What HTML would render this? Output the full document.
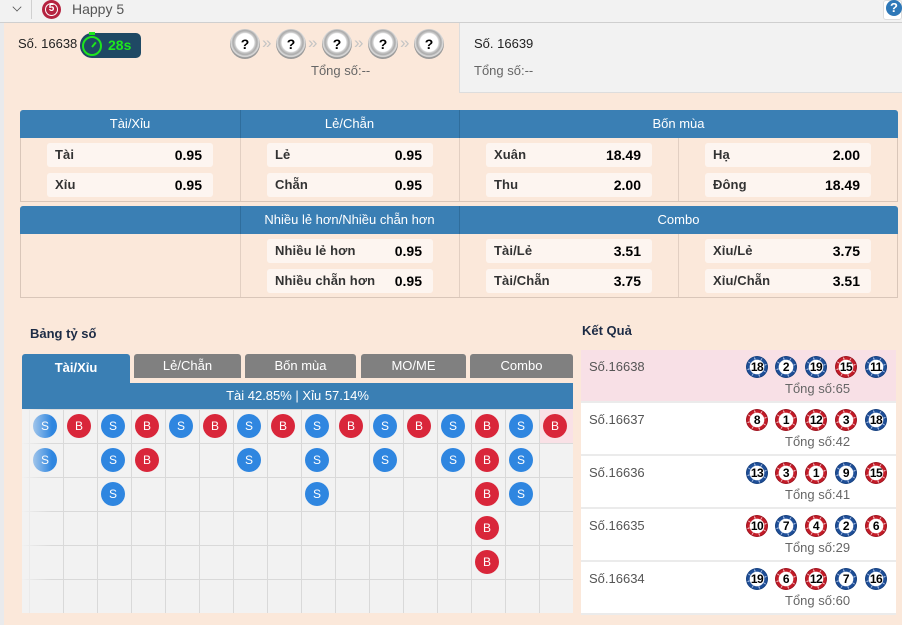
<!DOCTYPE html>
<html>
<head>
<meta charset="utf-8">
<style>
*{margin:0;padding:0;box-sizing:border-box;}
html,body{width:902px;height:625px;overflow:hidden;}
body{background:#fbe8da;font-family:"Liberation Sans","DejaVu Sans",sans-serif;position:relative;color:#333;}
.a{position:absolute;}
.topbar{left:0;top:0;width:902px;height:23px;background:#f2f2f2;border-bottom:1px solid #cfcfcf;}
.lstrip{left:0;top:23px;width:4px;height:602px;background:#e9eaec;}
.qball{width:30px;height:30px;border-radius:50%;background:radial-gradient(circle at 50% 45%,#fff 0 9px,#cfcfcf 10px,#a9a9a9 12px,#e0e0e0 14px,#9a9a9a 15px);text-align:center;line-height:30px;font-weight:bold;font-size:14px;color:#000;}
.chev{color:#c4c4c4;font-size:17px;top:33px;}
.tbl{background:#fbe8da;border:1px solid #d9c6b9;border-radius:3px 3px 0 0;}
.th{background:#3a7fb4;color:#fff;font-size:13px;text-align:center;height:28px;line-height:28px;}
.box{background:#fdf5f0;border-radius:3px;width:166px;height:24px;}
.box .l{position:absolute;left:8px;top:0;line-height:24px;font-size:13px;color:#333;font-weight:bold;letter-spacing:0.1px;}
.box .v{position:absolute;right:11px;top:0;line-height:24px;font-size:14px;color:#000;font-weight:bold;}
.vline{width:1px;background:#e2cfc2;}
.hvline{width:1px;background:#2f6d9c;}
.tab{background:#808080;color:#fff;font-size:13px;text-align:center;height:24px;line-height:24px;border-radius:3px 3px 0 0;}
.g{width:24px;height:24px;border-radius:50%;color:#fff;font-size:12px;text-align:center;line-height:24px;}
.s{background:#2f86e0;}
.b{background:#d9263a;}
.rb{width:22px;height:22px;border-radius:50%;text-align:center;line-height:22px;font-weight:bold;font-size:12px;color:#000;letter-spacing:-0.5px;}
.bl{background:radial-gradient(circle,#fff 0 7px,transparent 7.6px),repeating-conic-gradient(#1f4f98 0 26deg,#8ea9d6 26deg 34deg,#1f4f98 34deg 45deg);box-shadow:inset 0 0 0 1px #16407e;}
.rd{background:radial-gradient(circle,#fff 0 7px,transparent 7.6px),repeating-conic-gradient(#c41c28 0 26deg,#e9a1a6 26deg 34deg,#c41c28 34deg 45deg);box-shadow:inset 0 0 0 1px #9c1420;}
.rrow{left:581px;width:315px;height:53px;border-bottom:2px solid #ebebeb;background:#fff;}
.rrow .n{position:absolute;left:8px;top:9px;font-size:13px;color:#555;}
.rrow .t{position:absolute;left:204px;top:31px;font-size:13px;color:#666;}
</style>
</head>
<body>
<!-- top bar -->
<div class="a topbar"></div>
<div class="a" style="left:13px;top:3px;width:8px;height:8px;border-right:1.5px solid #555;border-bottom:1.5px solid #555;transform:rotate(45deg) scale(0.8);"></div>
<div class="a" style="left:31px;top:0;width:1px;height:19px;background:#d0d0d0;"></div>
<div class="a" style="left:42px;top:0px;width:19px;height:19px;border-radius:50%;background:#b5223f;"></div>
<div class="a" style="left:45px;top:3px;width:13px;height:13px;border-radius:50%;border:1.5px solid #fff;color:#fff;font-size:10px;font-weight:bold;text-align:center;line-height:10px;">5</div>
<div class="a" style="left:72px;top:1px;font-size:14px;color:#555;">Happy 5</div>
<div class="a" style="left:883px;top:0;width:19px;height:20px;background:#fff;border:1px solid #ddd;border-radius:3px;"></div>
<div class="a" style="left:886px;top:0px;width:16px;height:16px;border-radius:50%;background:#2e78b8;color:#fff;font-weight:bold;font-size:13px;text-align:center;line-height:16px;">?</div>

<div class="a lstrip"></div>

<!-- header current -->
<div class="a" style="left:18px;top:36px;font-size:13px;color:#222;">Số. 16638</div>
<div class="a" style="left:80px;top:33px;width:61px;height:25px;background:#1f4964;border-radius:12px 5px 5px 12px;"></div>
<div class="a" style="left:82px;top:36px;width:20px;height:20px;border-radius:50%;border:2.5px solid #1ee61e;"></div>
<div class="a" style="left:89px;top:32px;width:6px;height:3px;background:#1ee61e;"></div>
<div class="a" style="left:91px;top:41px;width:2px;height:6px;background:#1ee61e;transform:rotate(40deg);transform-origin:bottom;"></div>
<div class="a" style="left:108px;top:37px;font-size:14px;font-weight:bold;color:#1ee61e;">28s</div>

<div class="a qball" style="left:230px;top:29px;">?</div>
<div class="a chev" style="left:262px;">»</div>
<div class="a qball" style="left:276px;top:29px;">?</div>
<div class="a chev" style="left:308px;">»</div>
<div class="a qball" style="left:322px;top:29px;">?</div>
<div class="a chev" style="left:354px;">»</div>
<div class="a qball" style="left:368px;top:29px;">?</div>
<div class="a chev" style="left:400px;">»</div>
<div class="a qball" style="left:414px;top:29px;">?</div>
<div class="a" style="left:311px;top:63px;font-size:13px;color:#666;">Tổng số:--</div>

<!-- header next -->
<div class="a" style="left:459px;top:23px;width:443px;height:70px;background:#f2f2f2;border-left:1px solid #ddd;border-bottom:1px solid #ddd;"></div>
<div class="a" style="left:474px;top:36px;font-size:13px;color:#222;">Số. 16639</div>
<div class="a" style="left:474px;top:63px;font-size:13px;color:#666;">Tổng số:--</div>

<!-- table 1 -->
<div class="a tbl" style="left:20px;top:110px;width:878px;height:92px;"></div>
<div class="a th" style="left:20px;top:110px;width:878px;border-radius:3px 3px 0 0;"></div>
<div class="a th" style="left:20px;top:110px;width:220px;background:none;">Tài/Xỉu</div>
<div class="a th" style="left:240px;top:110px;width:219px;background:none;">Lẻ/Chẵn</div>
<div class="a th" style="left:459px;top:110px;width:439px;background:none;">Bốn mùa</div>
<div class="a hvline" style="left:240px;top:110px;height:28px;"></div>
<div class="a hvline" style="left:459px;top:110px;height:28px;"></div>
<div class="a vline" style="left:240px;top:138px;height:63px;"></div>
<div class="a vline" style="left:459px;top:138px;height:63px;"></div>
<div class="a vline" style="left:678px;top:138px;height:63px;"></div>

<div class="a box" style="left:47px;top:143px;"><span class="l">Tài</span><span class="v">0.95</span></div>
<div class="a box" style="left:47px;top:173px;"><span class="l">Xỉu</span><span class="v">0.95</span></div>
<div class="a box" style="left:267px;top:143px;"><span class="l">Lẻ</span><span class="v">0.95</span></div>
<div class="a box" style="left:267px;top:173px;"><span class="l">Chẵn</span><span class="v">0.95</span></div>
<div class="a box" style="left:486px;top:143px;"><span class="l">Xuân</span><span class="v">18.49</span></div>
<div class="a box" style="left:486px;top:173px;"><span class="l">Thu</span><span class="v">2.00</span></div>
<div class="a box" style="left:705px;top:143px;"><span class="l">Hạ</span><span class="v">2.00</span></div>
<div class="a box" style="left:705px;top:173px;"><span class="l">Đông</span><span class="v">18.49</span></div>

<!-- table 2 -->
<div class="a tbl" style="left:20px;top:206px;width:878px;height:92px;"></div>
<div class="a th" style="left:20px;top:206px;width:878px;border-radius:3px 3px 0 0;"></div>
<div class="a th" style="left:240px;top:206px;width:219px;background:none;">Nhiều lẻ hơn/Nhiều chẵn hơn</div>
<div class="a th" style="left:459px;top:206px;width:439px;background:none;">Combo</div>
<div class="a hvline" style="left:240px;top:206px;height:28px;"></div>
<div class="a hvline" style="left:459px;top:206px;height:28px;"></div>
<div class="a vline" style="left:240px;top:234px;height:63px;"></div>
<div class="a vline" style="left:459px;top:234px;height:63px;"></div>
<div class="a vline" style="left:678px;top:234px;height:63px;"></div>

<div class="a box" style="left:267px;top:239px;"><span class="l">Nhiều lẻ hơn</span><span class="v">0.95</span></div>
<div class="a box" style="left:267px;top:269px;"><span class="l">Nhiều chẵn hơn</span><span class="v">0.95</span></div>
<div class="a box" style="left:486px;top:239px;"><span class="l">Tài/Lẻ</span><span class="v">3.51</span></div>
<div class="a box" style="left:486px;top:269px;"><span class="l">Tài/Chẵn</span><span class="v">3.75</span></div>
<div class="a box" style="left:705px;top:239px;"><span class="l">Xỉu/Lẻ</span><span class="v">3.75</span></div>
<div class="a box" style="left:705px;top:269px;"><span class="l">Xỉu/Chẵn</span><span class="v">3.51</span></div>

<!-- Bảng tỷ số -->
<div class="a" style="left:30px;top:326px;font-size:13px;font-weight:bold;color:#1c2b45;">Bảng tỷ số</div>
<div class="a" style="left:22px;top:354px;width:108px;height:30px;background:#3a7fb4;border-radius:3px 3px 0 0;color:#fff;font-weight:bold;font-size:13px;text-align:center;line-height:28px;">Tài/Xỉu</div>
<div class="a tab" style="left:134px;top:354px;width:107px;">Lẻ/Chẵn</div>
<div class="a tab" style="left:245px;top:354px;width:111px;">Bốn mùa</div>
<div class="a tab" style="left:361px;top:354px;width:105px;">MO/ME</div>
<div class="a tab" style="left:470px;top:354px;width:103px;">Combo</div>
<div class="a" style="left:22px;top:383px;width:551px;height:26px;background:#3a7fb4;color:#fff;font-size:13px;text-align:center;line-height:26px;">Tài 42.85% | Xỉu 57.14%</div>

<!-- grid -->
<div class="a" style="left:22px;top:409px;width:551px;height:204px;background-color:#f2f2f2;background-image:linear-gradient(to right,#d9d9d9 0 1px,transparent 1px),linear-gradient(to bottom,#d9d9d9 0 1px,transparent 1px);background-size:34px 34px;background-position:7px 0px;"></div>
<div class="a" style="left:540px;top:409px;width:33px;height:34px;background:#f9e1e6;"></div>

<div class="a g s" style="left:33px;top:414px;">S</div>
<div class="a g b" style="left:67px;top:414px;">B</div>
<div class="a g s" style="left:101px;top:414px;">S</div>
<div class="a g b" style="left:135px;top:414px;">B</div>
<div class="a g s" style="left:169px;top:414px;">S</div>
<div class="a g b" style="left:203px;top:414px;">B</div>
<div class="a g s" style="left:237px;top:414px;">S</div>
<div class="a g b" style="left:271px;top:414px;">B</div>
<div class="a g s" style="left:305px;top:414px;">S</div>
<div class="a g b" style="left:339px;top:414px;">B</div>
<div class="a g s" style="left:373px;top:414px;">S</div>
<div class="a g b" style="left:407px;top:414px;">B</div>
<div class="a g s" style="left:441px;top:414px;">S</div>
<div class="a g b" style="left:475px;top:414px;">B</div>
<div class="a g s" style="left:509px;top:414px;">S</div>
<div class="a g b" style="left:543px;top:414px;">B</div>

<div class="a g s" style="left:33px;top:448px;">S</div>
<div class="a g s" style="left:101px;top:448px;">S</div>
<div class="a g b" style="left:135px;top:448px;">B</div>
<div class="a g s" style="left:237px;top:448px;">S</div>
<div class="a g s" style="left:305px;top:448px;">S</div>
<div class="a g s" style="left:373px;top:448px;">S</div>
<div class="a g s" style="left:441px;top:448px;">S</div>
<div class="a g b" style="left:475px;top:448px;">B</div>
<div class="a g s" style="left:509px;top:448px;">S</div>

<div class="a g s" style="left:101px;top:482px;">S</div>
<div class="a g s" style="left:305px;top:482px;">S</div>
<div class="a g b" style="left:475px;top:482px;">B</div>
<div class="a g s" style="left:509px;top:482px;">S</div>

<div class="a g b" style="left:475px;top:516px;">B</div>
<div class="a g b" style="left:475px;top:550px;">B</div>

<div class="a" style="left:22px;top:409px;width:30px;height:204px;background:linear-gradient(to right,rgba(242,242,242,0.95),rgba(242,242,242,0.6) 35%,rgba(242,242,242,0));"></div>

<!-- Kết Quả -->
<div class="a" style="left:582px;top:323px;font-size:13px;font-weight:bold;color:#1c2b45;">Kết Quả</div>

<div class="a rrow" style="top:350px;background:#f8e0e6;">
  <span class="n">Số.16638</span>
  <div class="a rb bl" style="left:165px;top:6px;">18</div>
  <div class="a rb bl" style="left:194px;top:6px;">2</div>
  <div class="a rb bl" style="left:224px;top:6px;">19</div>
  <div class="a rb rd" style="left:254px;top:6px;">15</div>
  <div class="a rb bl" style="left:284px;top:6px;">11</div>
  <span class="t">Tổng số:65</span>
</div>
<div class="a rrow" style="top:403px;">
  <span class="n">Số.16637</span>
  <div class="a rb rd" style="left:165px;top:6px;">8</div>
  <div class="a rb rd" style="left:194px;top:6px;">1</div>
  <div class="a rb rd" style="left:224px;top:6px;">12</div>
  <div class="a rb rd" style="left:254px;top:6px;">3</div>
  <div class="a rb bl" style="left:284px;top:6px;">18</div>
  <span class="t">Tổng số:42</span>
</div>
<div class="a rrow" style="top:456px;">
  <span class="n">Số.16636</span>
  <div class="a rb bl" style="left:165px;top:6px;">13</div>
  <div class="a rb rd" style="left:194px;top:6px;">3</div>
  <div class="a rb rd" style="left:224px;top:6px;">1</div>
  <div class="a rb bl" style="left:254px;top:6px;">9</div>
  <div class="a rb rd" style="left:284px;top:6px;">15</div>
  <span class="t">Tổng số:41</span>
</div>
<div class="a rrow" style="top:509px;">
  <span class="n">Số.16635</span>
  <div class="a rb rd" style="left:165px;top:6px;">10</div>
  <div class="a rb bl" style="left:194px;top:6px;">7</div>
  <div class="a rb rd" style="left:224px;top:6px;">4</div>
  <div class="a rb bl" style="left:254px;top:6px;">2</div>
  <div class="a rb rd" style="left:284px;top:6px;">6</div>
  <span class="t">Tổng số:29</span>
</div>
<div class="a rrow" style="top:562px;">
  <span class="n">Số.16634</span>
  <div class="a rb bl" style="left:165px;top:6px;">19</div>
  <div class="a rb rd" style="left:194px;top:6px;">6</div>
  <div class="a rb rd" style="left:224px;top:6px;">12</div>
  <div class="a rb bl" style="left:254px;top:6px;">7</div>
  <div class="a rb bl" style="left:284px;top:6px;">16</div>
  <span class="t">Tổng số:60</span>
</div>
</body>
</html>
